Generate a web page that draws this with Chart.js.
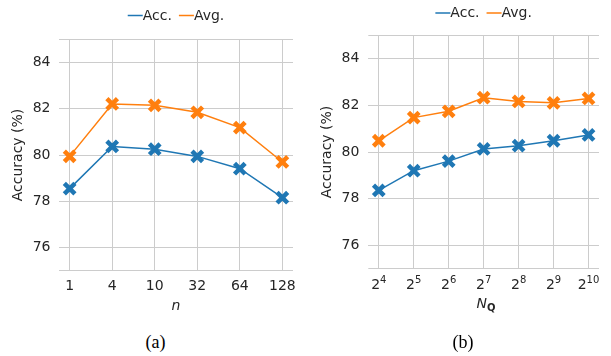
<!DOCTYPE html>
<html>
<head>
<meta charset="utf-8">
<script src="https://cdn.jsdelivr.net/npm/chart.js@4.4.1/dist/chart.umd.min.js"></script>
<style>
  body { margin: 0; background: #fff; width: 611px; height: 356px; overflow: hidden; position: relative; }
  canvas { position: absolute; top: 0; }
  .cap { position: absolute; font-family: 'Liberation Serif', serif; font-size: 18px; line-height: 20px; color: #000; transform: translateX(-50%); white-space: nowrap; }
  #nq { position: absolute; left: 486px; top: 295px; transform: translateX(-50%); font-family: 'DejaVu Sans', sans-serif; font-size: 14px; line-height: 16px; color: #262626; white-space: nowrap; }
  #nq b { font-size: 10px; position: relative; top: 3px; }
</style>
</head>
<body>
<canvas id="chartA" width="305" height="320" style="left:0"></canvas>
<canvas id="chartB" width="306" height="320" style="left:305px"></canvas>
<div id="nq"><i>N</i><b>Q</b></div>
<div class="cap" style="left:155.5px; top:332px">(a)</div>
<div class="cap" style="left:463px; top:332px">(b)</div>
<script>
// values
const nLabels = ['1', '4', '10', '32', '64', '128'];
const accA = [78.55, 80.37, 80.25, 79.94, 79.41, 78.16];
const avgA = [79.94, 82.20, 82.14, 81.84, 81.18, 79.70];

// N_Q ticks are 2^k
const nqBase = '2';
const nqExps = ['4', '5', '6', '7', '8', '9', '10'];
const accB = [78.36, 79.20, 79.61, 80.13, 80.27, 80.48, 80.73];
const avgB = [80.48, 81.47, 81.74, 82.32, 82.16, 82.10, 82.29];

const yTicks = [76, 78, 80, 82, 84];
const seriesNames = ['Acc.', 'Avg.'];
const colors = ['#1f77b4', '#ff7f0e'];

Chart.defaults.font.family = "'DejaVu Sans', sans-serif";
Chart.defaults.font.size = 14;
Chart.defaults.color = '#262626';

const gridColor = '#cccccc';

// top and bottom edge of the plot
const frame = {
    id: 'frame',
    beforeDatasetsDraw(chart) {
        const { ctx, chartArea: a } = chart;
        ctx.save();
        ctx.strokeStyle = gridColor;
        ctx.lineWidth = 1;
        ctx.beginPath();
        ctx.moveTo(a.left, Math.round(a.top) + 0.5);
        ctx.lineTo(a.right, Math.round(a.top) + 0.5);
        ctx.moveTo(a.left, Math.round(a.bottom) - 0.5);
        ctx.lineTo(a.right, Math.round(a.bottom) - 0.5);
        ctx.stroke();
        ctx.restore();
    }
};

// matplotlib style legend: short line then label
const miniLegend = {
    id: 'miniLegend',
    afterDraw(chart, args, opts) {
        const ctx = chart.ctx;
        ctx.save();
        ctx.font = "14px 'DejaVu Sans'";
        ctx.textBaseline = 'middle';
        const lineLen = 15, gap = 7;
        const items = chart.data.datasets.map(d => ({ text: d.label, color: d.borderColor, w: ctx.measureText(d.label).width }));
        const total = items.reduce((s, it) => s + lineLen + it.w, 0) + gap * (items.length - 1);
        let x = (chart.chartArea.left + chart.chartArea.right) / 2 - total / 2;
        items.forEach(it => {
            ctx.strokeStyle = it.color;
            ctx.lineWidth = 1.5;
            ctx.beginPath();
            ctx.moveTo(x, opts.y - 0.5);
            ctx.lineTo(x + lineLen, opts.y - 0.5);
            ctx.stroke();
            ctx.fillStyle = '#262626';
            ctx.fillText(it.text, x + lineLen, opts.y);
            x += lineLen + it.w + gap;
        });
        ctx.restore();
    }
};

// tick labels with a real superscript (base^exp) on the x scale
const powerTicks = {
    id: 'powerTicks',
    afterDraw(chart, args, opts) {
        if (!opts.exps) return;
        const { ctx } = chart;
        const s = chart.scales.x;
        const baseY = chart.chartArea.bottom + opts.offset;
        ctx.save();
        ctx.fillStyle = '#262626';
        ctx.textBaseline = 'alphabetic';
        opts.exps.forEach((e, i) => {
            const x = s.getPixelForValue(i);
            ctx.font = "14px 'DejaVu Sans'";
            const wb = ctx.measureText(opts.base).width;
            ctx.font = "10px 'DejaVu Sans'";
            const we = ctx.measureText(e).width;
            const x0 = x - (wb + we) / 2;
            ctx.font = "14px 'DejaVu Sans'";
            ctx.fillText(opts.base, x0, baseY);
            ctx.font = "10px 'DejaVu Sans'";
            ctx.fillText(e, x0 + wb, baseY - 6);
        });
        ctx.restore();
    }
};

function makeChart(id, labels, acc, avg, lay) {
    const margin = (labels.length - 1) * 0.05;
    const series = [acc, avg];
    new Chart(document.getElementById(id), {
        type: 'line',
        data: {
            datasets: series.map((vals, k) => ({
                label: seriesNames[k],
                data: vals.map((v, i) => ({ x: i, y: v })),
                borderColor: colors[k],
                backgroundColor: colors[k],
                borderWidth: 1.5,
                pointStyle: 'crossRot',
                pointRadius: 7.5,
                pointBorderWidth: 4.5,
                pointBorderColor: colors[k],
                tension: 0,
                clip: false
            }))
        },
        options: {
            responsive: false,
            animation: false,
            events: [],
            layout: { padding: { top: lay.top, right: lay.right, left: 0, bottom: 0 } },
            plugins: {
                legend: { display: false },
                tooltip: { enabled: false },
                miniLegend: { y: lay.legendY },
                powerTicks: lay.power || {}
            },
            scales: {
                x: {
                    type: 'linear',
                    min: -margin,
                    max: labels.length - 1 + margin,
                    afterBuildTicks: s => { s.ticks = labels.map((_, i) => ({ value: i })); },
                    afterFit: s => { s.height = lay.xHeight; },
                    ticks: {
                        autoSkip: false,
                        maxRotation: 0,
                        padding: lay.xPad,
                        callback: v => lay.power ? '' : labels[Math.round(v)]
                    },
                    grid: { color: gridColor, drawTicks: false },
                    border: { display: false },
                    title: {
                        display: lay.xTitle !== '',
                        text: lay.xTitle,
                        font: { style: 'italic', size: 14 },
                        padding: { top: 0, bottom: 5.6 }
                    }
                },
                y: {
                    min: 75,
                    max: 85,
                    afterBuildTicks: s => { s.ticks = yTicks.map(v => ({ value: v })); },
                    afterFit: s => { s.width = lay.yWidth; },
                    ticks: { padding: lay.yPad },
                    grid: { color: gridColor, drawTicks: false },
                    border: { display: false },
                    title: {
                        display: true,
                        text: 'Accuracy (%)',
                        font: { size: 14 },
                        padding: { top: lay.yTitlePad, bottom: 0 }
                    }
                }
            }
        },
        plugins: [frame, miniLegend, powerTicks]
    });
}

makeChart('chartA', nLabels, accA, avgA, {
    top: 39, right: 12, xHeight: 49, yWidth: 59, xPad: 7, yPad: 8.5, yTitlePad: 10, legendY: 16, xTitle: 'n'
});
makeChart('chartB', nqExps, accB, avgB, {
    top: 35, right: 7.3, xHeight: 51, yWidth: 63.3, xPad: 7.6, yPad: 9, yTitlePad: 13.6, legendY: 13.5, xTitle: '',
    power: { base: nqBase, exps: nqExps, offset: 20.3 }
});
</script>
</body>
</html>
